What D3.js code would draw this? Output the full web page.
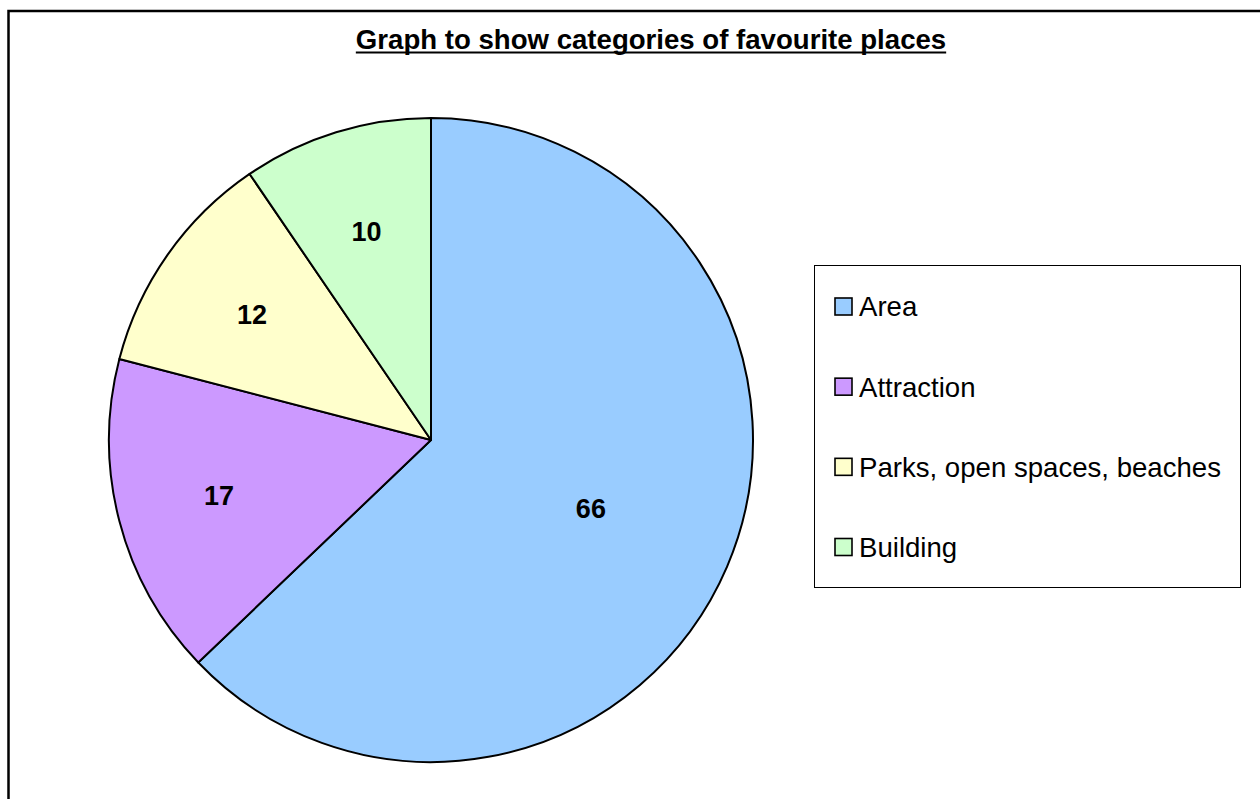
<!DOCTYPE html>
<html>
<head>
<meta charset="utf-8">
<script src="https://cdn.jsdelivr.net/npm/d3@7"></script>
<style>
  html, body { margin: 0; padding: 0; background: #fff; }
  svg { display: block; font-family: "Liberation Sans", Arial, sans-serif; }
</style>
</head>
<body>
<svg id="chart" width="1260" height="799"></svg>
<script>
const categories = ["Area", "Attraction", "Parks, open spaces, beaches", "Building"];
const values = [66, 17, 12, 10];
const colors = ["#99CCFF", "#CC99FF", "#FFFFCC", "#CCFFCC"];
const title = "Graph to show categories of favourite places";

const data = categories.map((c, i) => ({ name: c, value: values[i], color: colors[i] }));

const svg = d3.select("#chart");

// outer chart border
svg.append("rect")
  .attr("x", 8.5).attr("y", 11)
  .attr("width", 1270).attr("height", 810)
  .attr("fill", "#fff").attr("stroke", "#000").attr("stroke-width", 2.5);

// title
const t = svg.append("text")
  .attr("x", 651).attr("y", 49)
  .attr("text-anchor", "middle")
  .attr("font-size", 27.6).attr("font-weight", "bold")
  .attr("fill", "#000")
  .text(title);
const tb = t.node().getBBox();
svg.append("line")
  .attr("x1", tb.x).attr("x2", tb.x + tb.width)
  .attr("y1", 52.5).attr("y2", 52.5)
  .attr("stroke", "#000").attr("stroke-width", 2);

// pie
const cx = 431, cy = 440, R = 322;
const pie = d3.pie().value(d => d.value).sort(null);
const arc = d3.arc().innerRadius(0).outerRadius(R);
const arcs = pie(data);

const g = svg.append("g").attr("transform", `translate(${cx},${cy})`);
g.selectAll("path.slice")
  .data(arcs)
  .join("path")
  .attr("class", "slice")
  .attr("d", arc)
  .attr("fill", d => d.data.color)
  .attr("stroke", "#000")
  .attr("stroke-width", 2)
  .attr("stroke-linejoin", "round");

const labelArcBig = d3.arc().innerRadius(R * 0.54).outerRadius(R * 0.54);
const labelArc = d3.arc().innerRadius(R * 0.68).outerRadius(R * 0.68);
g.selectAll("text.lbl")
  .data(arcs)
  .join("text")
  .attr("class", "lbl")
  .attr("transform", d => {
    const a = (d.endAngle - d.startAngle) > Math.PI ? labelArcBig : labelArc;
    const [x, y] = a.centroid(d);
    return `translate(${x},${y})`;
  })
  .attr("text-anchor", "middle")
  .attr("dy", "0.36em")
  .attr("font-size", 27).attr("font-weight", "bold")
  .attr("fill", "#000")
  .text(d => d.data.value);

// legend
const lx = 814, ly = 265, lw = 426, lh = 322;
svg.append("rect")
  .attr("x", lx + 0.5).attr("y", ly + 0.5)
  .attr("width", lw).attr("height", lh)
  .attr("fill", "#fff").attr("stroke", "#000").attr("stroke-width", 1);

const rowY = d3.scalePoint().domain(categories).range([306.5, 547]);
const leg = svg.append("g").selectAll("g")
  .data(data)
  .join("g")
  .attr("transform", d => `translate(0,${rowY(d.name)})`);
leg.append("rect")
  .attr("x", 835).attr("y", -8.5)
  .attr("width", 17).attr("height", 17)
  .attr("fill", d => d.color)
  .attr("stroke", "#000").attr("stroke-width", 1.6);
leg.append("text")
  .attr("x", 859).attr("y", 0)
  .attr("dy", "0.36em")
  .attr("font-size", 27.6)
  .attr("fill", "#000")
  .text(d => d.name);
</script>
</body>
</html>
